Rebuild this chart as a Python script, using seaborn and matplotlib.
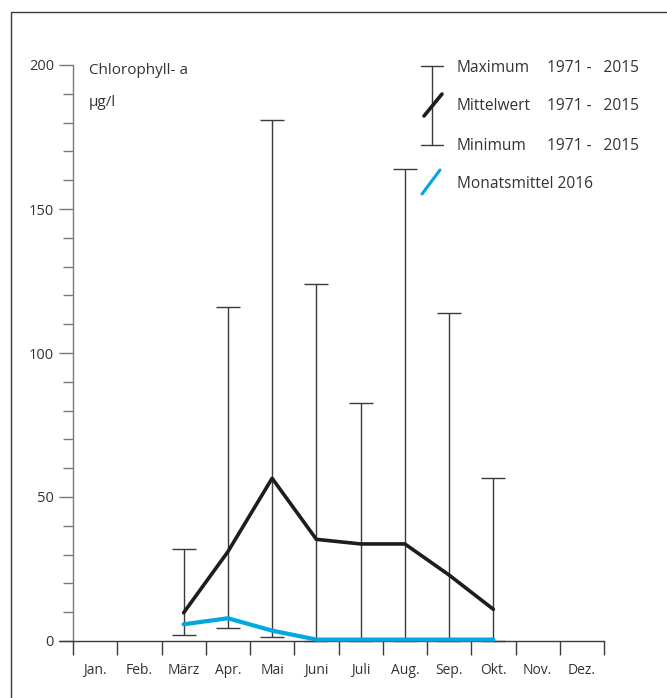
import matplotlib
matplotlib.use("Agg")
import matplotlib.pyplot as plt
import numpy as np
import pandas as pd
import seaborn as sns
from matplotlib.lines import Line2D
from matplotlib.patches import Rectangle

months = ["Jan.", "Feb.", "März", "Apr.", "Mai", "Juni",
          "Juli", "Aug.", "Sep.", "Okt.", "Nov.", "Dez."]
bar_months = ["März", "Apr.", "Mai", "Juni", "Juli", "Aug.", "Sep.", "Okt."]
maximum = [31.8, 116, 181, 124, 82.5, 164, 114, 56.5]
minimum = [2.1, 4.6, 1.5, 0, 0, 0, 0, 0]
mittelwert = [9.8, 31, 56.5, 35.3, 33.7, 33.7, 22.9, 11]
mittel_2016 = [5.8, 7.9, 3.6, 0.5, 0.5, 0.5, 0.5, 0.5]

W, H = 667, 698
BLACK = "#1d1d1b"
BLUE = "#00a8de"
GREY = "#3a3a3a"
LGREY = "#7a7a7a"
TXT = "#333333"

sns.set_style("white")
plt.rcParams["font.family"] = ["Open Sans", "DejaVu Sans"]

df = pd.DataFrame({
    "pos": [months.index(m) for m in bar_months],
    "max": maximum, "min": minimum,
    "mean": mittelwert, "m2016": mittel_2016,
})


def px(x, y):
    return x / W, 1 - y / H


fig = plt.figure(figsize=(W / 100, H / 100), dpi=100)
ax = fig.add_axes([73 / W, 1 - 641 / H, 531 / W, 576 / H])

# min-max bars
ax.vlines(df["pos"], df["min"], df["max"], color=GREY, lw=1, zorder=1, clip_on=False)
ax.hlines(df["max"], df["pos"] - 0.27, df["pos"] + 0.27, color=GREY, lw=1, zorder=1, clip_on=False)
ax.hlines(df["min"], df["pos"] - 0.27, df["pos"] + 0.27, color=GREY, lw=1, zorder=1, clip_on=False)

sns.lineplot(data=df, x="pos", y="mean", color=BLACK, lw=2.6, ax=ax, zorder=3, clip_on=False)
sns.lineplot(data=df, x="pos", y="m2016", color=BLUE, lw=3, ax=ax, zorder=4, clip_on=False)

ax.set_xlim(-0.5, 11.5)
ax.set_ylim(0, 200)
ax.set_xlabel("")
ax.set_ylabel("")

ax.set_xticks(np.arange(-0.5, 12, 1))
ax.set_xticklabels([])
ax.set_xticks(np.arange(12), minor=True)
ax.set_xticklabels(months, minor=True)
ax.tick_params(axis="x", which="major", direction="out", length=10, width=1, color=GREY, bottom=True)
ax.tick_params(axis="x", which="minor", length=0, pad=16, labelsize=10, labelcolor=TXT)

ax.set_yticks(np.arange(0, 201, 50))
ax.set_yticks(np.arange(0, 201, 10), minor=True)
ax.tick_params(axis="y", which="major", direction="out", length=10, width=1, color=LGREY,
               left=True, pad=3.6, labelsize=10.5, labelcolor=TXT)
ax.tick_params(axis="y", which="minor", direction="out", length=7.2, width=1, color=LGREY, left=True)

sns.despine(ax=ax)
ax.spines["left"].set_color(LGREY)
ax.spines["bottom"].set_color(GREY)
for s in ["left", "bottom"]:
    ax.spines[s].set_linewidth(1)
# the zero line runs out past the y axis like the major tick
ax.axhline(0, xmin=-14 / 531, xmax=0, color=GREY, lw=1, clip_on=False)

fig.text(*px(89, 71), "Chlorophyll- a", fontsize=11, color=TXT, va="center")
fig.text(*px(89, 103), "µg/l", fontsize=11, color=TXT, va="center")

# legend
def fline(p1, p2, **kw):
    (x1, y1), (x2, y2) = px(*p1), px(*p2)
    fig.add_artist(Line2D([x1, x2], [y1, y2], transform=fig.transFigure, **kw))

fline((432, 66), (432, 145), color=GREY, lw=1)
fline((421, 66), (443, 66), color=GREY, lw=1)
fline((421, 145), (443, 145), color=GREY, lw=1)
fline((424, 116), (442, 94), color=BLACK, lw=2.6)
fline((422, 194), (440, 170), color=BLUE, lw=2.2)

for label, y in [("Maximum", 68), ("Mittelwert", 106), ("Minimum", 146)]:
    fig.text(*px(457, y), label, fontsize=11.2, color=TXT, va="center")
    fig.text(*px(547, y), "1971 -   2015", fontsize=11.2, color=TXT, va="center")
fig.text(*px(457, 184), "Monatsmittel 2016", fontsize=11.2, color=TXT, va="center")

# outer frame
x0, y0 = px(11, 12)
fig.add_artist(Rectangle((x0, -0.1), 1.2, y0 + 0.1, transform=fig.transFigure,
                         fill=False, ec=GREY, lw=1))

fig.savefig("out.png", dpi=100)
